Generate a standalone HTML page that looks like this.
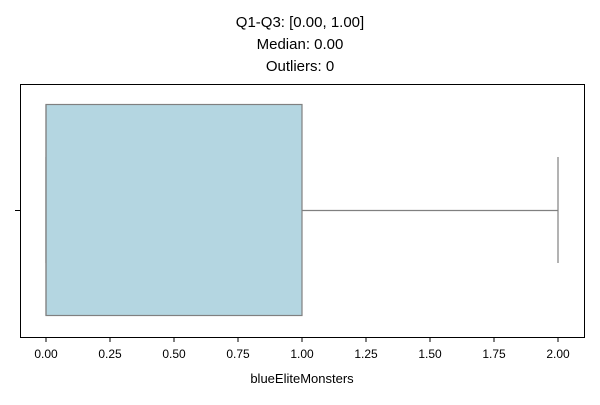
<!DOCTYPE html>
<html><head><meta charset="utf-8"><style>
body{margin:0;background:#fff;font-family:"Liberation Sans","DejaVu Sans",sans-serif}
</style></head><body>
<svg width="600" height="400" xmlns="http://www.w3.org/2000/svg">
<g font-size="15" text-anchor="middle" fill="#000">
<text x="300" y="27">Q1-Q3: [0.00, 1.00]</text>
<text x="300" y="49">Median: 0.00</text>
<text x="300" y="71">Outliers: 0</text>
</g>
<g id="plot"></g>
<rect x="20.5" y="84.5" width="564" height="253" fill="none" stroke="#000" stroke-width="1"/>
<line x1="15" y1="210.5" x2="20" y2="210.5" stroke="#000"/>
<g id="xticks"></g>
<text x="302" y="383" font-size="13" text-anchor="middle">blueEliteMonsters</text>
</svg>
<script>
const q1=[0], q3=[1], median=[0], whiskerLow=[0], whiskerHigh=[2];
const tickValues=[0,0.25,0.5,0.75,1,1.25,1.5,1.75,2];
const tickLabels=["0.00","0.25","0.50","0.75","1.00","1.25","1.50","1.75","2.00"];
const NS="http://www.w3.org/2000/svg";
const x=v=>46+v*256;
function mk(tag,attrs,parent){const e=document.createElementNS(NS,tag);for(const k in attrs)e.setAttribute(k,attrs[k]);parent.appendChild(e);return e;}
const plot=document.getElementById('plot');
const cy=210.5, boxTop=104.5, boxBot=315.5;
let e;
e=mk('line',{x1:x(q3[0]),y1:cy,x2:x(whiskerHigh[0]),y2:cy,stroke:'#808080','stroke-width':1.2},plot);


e=mk('line',{x1:x(whiskerLow[0]),y1:cy,x2:x(q1[0]),y2:cy,stroke:'#808080','stroke-width':1.2},plot);


e=mk('line',{x1:x(whiskerHigh[0]),y1:157,x2:x(whiskerHigh[0]),y2:263,stroke:'#808080','stroke-width':1.2},plot);


e=mk('line',{x1:x(whiskerLow[0]),y1:157,x2:x(whiskerLow[0]),y2:263,stroke:'#808080','stroke-width':1.2},plot);


e=mk('rect',{x:x(q1[0]),y:boxTop,width:x(q3[0])-x(q1[0]),height:boxBot-boxTop,fill:'#b4d6e1',stroke:'#808080','stroke-width':1.2},plot);


e=mk('line',{x1:x(median[0]),y1:boxTop,x2:x(median[0]),y2:boxBot,stroke:'#808080','stroke-width':1.2},plot);


const xt=document.getElementById('xticks');
tickValues.forEach((v,i)=>{
 const t=mk('line',{x1:x(v),y1:337.5,x2:x(v),y2:342,stroke:'#000'},xt);
 
 
 const l=mk('text',{x:x(v),y:358,'font-size':12,'text-anchor':'middle'},xt);
 l.textContent=tickLabels[i];
 
 
});
</script>
</body></html>
